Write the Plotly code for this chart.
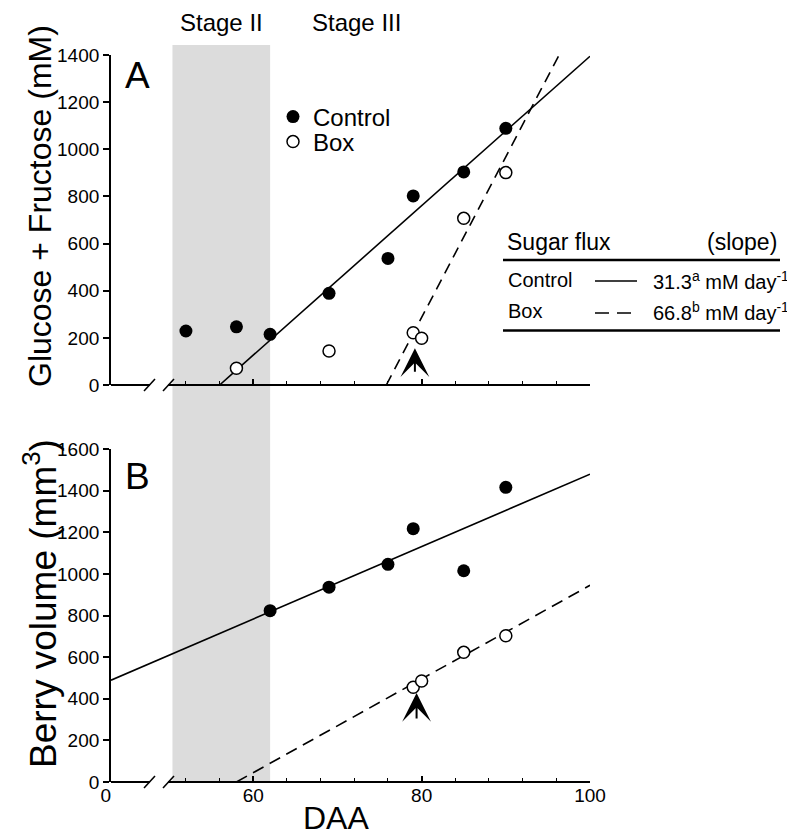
import plotly.graph_objects as go

# ---------------- data ----------------
# Panel A: Glucose + Fructose (mM) vs DAA
a_ctrl_daa = [52, 58, 62, 69, 76, 79, 85, 90]
a_ctrl_val = [229, 247, 215, 389, 537, 802, 904, 1089]
a_box_daa = [58, 69, 79, 80, 85, 90]
a_box_val = [71, 144, 222, 198, 707, 901]
# regression lines: value = slope * (DAA - x_at_zero)
a_ctrl_fit = {"slope": 31.7, "x_at_zero": 56.0, "x_end": 100.0}
a_box_fit = {"slope": 68.2, "x_at_zero": 75.8, "x_end": 96.5}

# Panel B: Berry volume (mm3) vs DAA
b_ctrl_daa = [62, 69, 76, 79, 85, 90]
b_ctrl_val = [823, 936, 1046, 1217, 1015, 1416]
b_box_daa = [79, 80, 85, 90]
b_box_val = [455, 485, 623, 703]
b_ctrl_fit = {"slope": 17.4, "value_at_100": 1479, "x_start": 43.1}
b_box_fit = {"slope": 22.5, "x_at_zero": 58.0, "x_end": 100.0}

# Stage II shading (DAA)
stage2_band = [50.4, 62.0]
# arrows (DAA, value at arrow tip)
arrow_a = (79.2, 156)
arrow_b = (79.4, 428)

# axis ticks
x_range = [43.1, 100]
x_major = [43.1, 60, 80, 100]
x_major_text = ["0\u00a0\u00a0", "60", "80", "100"]
x_minor = [52, 56, 64, 68, 72, 76, 84, 88, 92, 96]
ya_ticks = list(range(0, 1401, 200))
yb_ticks = list(range(0, 1601, 200))

slopes_text = ["31.3<sup>a</sup> mM day<sup>-1</sup>", "66.8<sup>b</sup> mM day<sup>-1</sup>"]

# ---------------- layout helpers ----------------
OFF = 8                      # page body margin
W, H = 795 - OFF, 836 - OFF  # figure size
PLOT_L, PLOT_R = 111, 590    # plot area in page pixels
PLOT_T, PLOT_B = 45, 782
L = PLOT_L - OFF
T = PLOT_T - OFF
PW = PLOT_R - PLOT_L
PH = PLOT_B - PLOT_T
R = W - L - PW
B = H - T - PH
FONT = "Liberation Sans, Arial, Helvetica, sans-serif"


def px_x(px):
    return (px - PLOT_L) / PW


def px_y(py):
    return (PLOT_B - py) / PH


A_BOT, A_TOP = 385, 55
B_BOT, B_TOP = 782, 449

fig = go.Figure()


def line_from_zero(fit):
    xs = [fit["x_at_zero"], fit["x_end"]]
    ys = [fit["slope"] * (x - fit["x_at_zero"]) for x in xs]
    return xs, ys


# ----- regression lines -----
xs, ys = line_from_zero(a_ctrl_fit)
fig.add_trace(go.Scatter(x=xs, y=ys, mode="lines", line=dict(color="black", width=1.6),
                         showlegend=False, xaxis="x", yaxis="y"))
xs, ys = line_from_zero(a_box_fit)
fig.add_trace(go.Scatter(x=xs, y=ys, mode="lines", line=dict(color="black", width=1.6, dash="11px,7px"),
                         showlegend=False, xaxis="x", yaxis="y"))
xs = [b_ctrl_fit["x_start"], 100]
ys = [b_ctrl_fit["value_at_100"] - b_ctrl_fit["slope"] * (100 - x) for x in xs]
fig.add_trace(go.Scatter(x=xs, y=ys, mode="lines", line=dict(color="black", width=1.6),
                         showlegend=False, xaxis="x2", yaxis="y2"))
xs, ys = line_from_zero(b_box_fit)
fig.add_trace(go.Scatter(x=xs, y=ys, mode="lines", line=dict(color="black", width=1.6, dash="12px,7px"),
                         showlegend=False, xaxis="x2", yaxis="y2"))

# ----- points -----
filled = dict(symbol="circle", size=13, color="black", line=dict(width=0))
opened = dict(symbol="circle", size=12, color="white", line=dict(color="black", width=1.5))

fig.add_trace(go.Scatter(x=a_ctrl_daa, y=a_ctrl_val, mode="markers", marker=filled, name="Control",
                         legend="legend", xaxis="x", yaxis="y", cliponaxis=False))
fig.add_trace(go.Scatter(x=a_box_daa, y=a_box_val, mode="markers", marker=opened, name="Box",
                         legend="legend2", xaxis="x", yaxis="y", cliponaxis=False))
fig.add_trace(go.Scatter(x=b_ctrl_daa, y=b_ctrl_val, mode="markers", marker=filled, showlegend=False,
                         xaxis="x2", yaxis="y2", cliponaxis=False))
fig.add_trace(go.Scatter(x=b_box_daa, y=b_box_val, mode="markers", marker=opened, showlegend=False,
                         xaxis="x2", yaxis="y2", cliponaxis=False))


# ----- axes -----
def xaxis_cfg(anchor, labels):
    return dict(
        domain=[0, 1], anchor=anchor, range=x_range, showline=False, showgrid=False, zeroline=False,
        tickmode="array", tickvals=x_major, ticktext=x_major_text,
        showticklabels=labels, ticks="inside", ticklen=6, tickwidth=1.6, tickcolor="black",
        tickfont=dict(family=FONT, size=19, color="black"),
        minor=dict(tickvals=x_minor, ticks="inside", ticklen=4, tickwidth=1.4, tickcolor="black"),
    )


def yaxis_cfg(anchor, dom, top, ticks):
    return dict(
        domain=dom, anchor=anchor, range=[0, top], showline=True, linecolor="black", linewidth=1.8,
        showgrid=False, zeroline=False, tickmode="array", tickvals=ticks,
        ticks="outside", ticklen=6, tickwidth=1.6, tickcolor="black",
        tickfont=dict(family=FONT, size=19, color="black"),
    )


shapes = []
# Stage II band
shapes.append(dict(type="rect", xref="x", yref="paper", x0=stage2_band[0], x1=stage2_band[1],
                   y0=px_y(B_BOT), y1=px_y(45), fillcolor="#dcdcdc", line=dict(width=0), layer="below"))

# broken x-axis lines and break marks
for ybase in (A_BOT, B_BOT):
    shapes.append(dict(type="line", xref="paper", yref="paper", x0=px_x(PLOT_L), x1=px_x(150),
                       y0=px_y(ybase), y1=px_y(ybase), line=dict(color="black", width=1.8)))
    shapes.append(dict(type="line", xref="paper", yref="paper", x0=px_x(168), x1=px_x(PLOT_R),
                       y0=px_y(ybase), y1=px_y(ybase), line=dict(color="black", width=1.8)))
    for sx in (144, 163):
        shapes.append(dict(type="line", xref="paper", yref="paper", x0=px_x(sx), x1=px_x(sx + 11),
                           y0=px_y(ybase + 6), y1=px_y(ybase - 6), line=dict(color="black", width=1.6)))

# table rules
for ry in (260, 330.5):
    shapes.append(dict(type="line", xref="paper", yref="paper", x0=px_x(503), x1=px_x(780),
                       y0=px_y(ry), y1=px_y(ry), line=dict(color="black", width=2.4)))
# table line samples
shapes.append(dict(type="line", xref="paper", yref="paper", x0=px_x(595), x1=px_x(637),
                   y0=px_y(281), y1=px_y(281), line=dict(color="black", width=1.4)))
shapes.append(dict(type="line", xref="paper", yref="paper", x0=px_x(595), x1=px_x(637),
                   y0=px_y(313), y1=px_y(313), line=dict(color="black", width=1.4, dash="14px,8px")))

ann = []


def txt(text, x, y, size, xanchor="center", yanchor="middle", xref="paper", angle=0):
    ann.append(dict(text=text, x=x, y=y, xref=xref, yref="paper", showarrow=False,
                    xanchor=xanchor, yanchor=yanchor, textangle=angle,
                    font=dict(family=FONT, size=size, color="black")))


# stage labels
txt("Stage II", sum(stage2_band) / 2, px_y(22), 24, xref="x")
txt("Stage III", 72.3, px_y(22), 24, xref="x")
# panel letters
txt("A", px_x(137), px_y(75), 37)
txt("B", px_x(137), px_y(476), 37)
# axis titles
txt("Glucose + Fructose (mM)", px_x(40), px_y(206), 32, angle=-90)
txt("Berry volume (mm<sup>3</sup>)", px_x(40), px_y(604), 37, angle=-90)
txt("DAA", px_x(336), px_y(818), 32)
# table
txt("Sugar flux", px_x(505), px_y(242), 23, xanchor="left")
txt("(slope)", px_x(779), px_y(242), 23, xanchor="right")
txt("Control", px_x(506), px_y(280), 20, xanchor="left")
txt("Box", px_x(506), px_y(311), 20, xanchor="left")
txt(slopes_text[0], px_x(651), px_y(280), 20, xanchor="left")
txt(slopes_text[1], px_x(651), px_y(311), 20, xanchor="left")

# arrows
for (ax_x, ax_y), xr, yr, off in ((arrow_a, "x", "y", 25), (arrow_b, "x2", "y2", 27)):
    ann.append(dict(x=ax_x, y=ax_y, xref=xr, yref=yr, ax=0, ay=off, showarrow=True,
                    arrowhead=3, arrowsize=2.4, arrowwidth=2, arrowcolor="black", text="", standoff=0))

legend_common = dict(xanchor="left", yanchor="middle", bgcolor="rgba(0,0,0,0)", borderwidth=0,
                     font=dict(family=FONT, size=24, color="black"), itemwidth=30)

fig.update_layout(
    width=W, height=H, margin=dict(l=L, r=R, t=T, b=B, autoexpand=False),
    paper_bgcolor="white", plot_bgcolor="rgba(0,0,0,0)",
    font=dict(family=FONT, color="black"),
    xaxis=xaxis_cfg("y", False),
    xaxis2=xaxis_cfg("y2", True),
    yaxis=yaxis_cfg("x", [px_y(A_BOT), px_y(A_TOP)], 1400, ya_ticks),
    yaxis2=yaxis_cfg("x2", [px_y(B_BOT), px_y(B_TOP)], 1600, yb_ticks),
    legend=dict(x=px_x(273), y=px_y(117), **legend_common),
    legend2=dict(x=px_x(273), y=px_y(142), **legend_common),
    shapes=shapes, annotations=ann,
)

fig.write_html("out.html")
